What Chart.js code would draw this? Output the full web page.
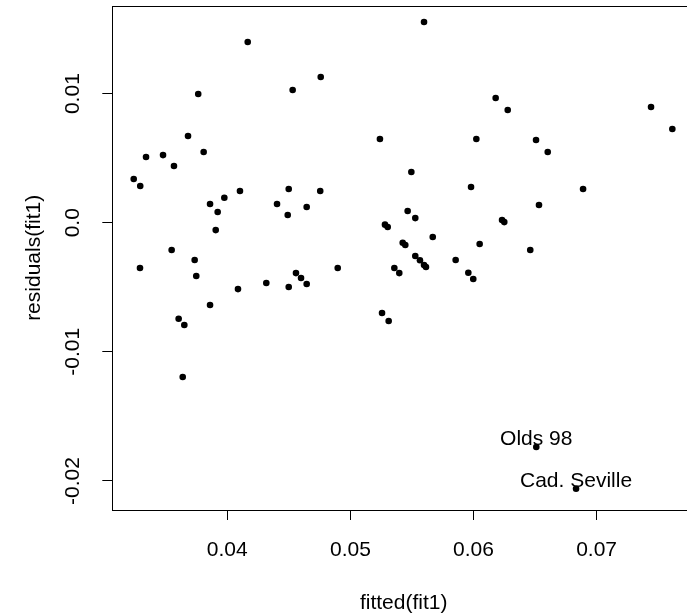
<!DOCTYPE html>
<html>
<head>
<meta charset="utf-8">
<script src="https://cdn.jsdelivr.net/npm/chart.js@4/dist/chart.umd.min.js"></script>
<style>
  html, body { margin: 0; padding: 0; background: #fff; overflow: hidden; }
  #resid { display: block; }
</style>
</head>
<body>
<canvas id="resid" width="700" height="613"></canvas>
<script>
"use strict";

// ----------------------------
// Data
// ----------------------------
const fitted = [
  0.0324, 0.03293, 0.0334, 0.03478, 0.03567, 0.03681, 0.03764, 0.03808, 0.04166, 0.03976,
  0.04103, 0.04499, 0.04755, 0.04531, 0.04759, 0.0386, 0.03922, 0.03906, 0.04404, 0.04645,
  0.04491, 0.03548, 0.03735, 0.03291, 0.03748, 0.04087, 0.04317, 0.04499, 0.04558, 0.04599,
  0.04645, 0.04897, 0.0386, 0.03605, 0.03651, 0.03638, 0.05598, 0.0618, 0.06278, 0.07442,
  0.07615, 0.0524, 0.06023, 0.06508, 0.06603, 0.05495, 0.0598, 0.0689, 0.06532, 0.05465,
  0.05527, 0.05281, 0.05303, 0.05669, 0.06232, 0.0625, 0.0605, 0.05425, 0.05446, 0.06461,
  0.05527, 0.05565, 0.05598, 0.05614, 0.05855, 0.05357, 0.05397, 0.05958, 0.05998, 0.05257,
  0.05311, 0.0651, 0.06833
];

const residuals = [
  0.00339, 0.00284, 0.00509, 0.00524, 0.00439, 0.00672, 0.00997, 0.00548, 0.0140, 0.00194,
  0.00246, 0.00261, 0.00246, 0.01028, 0.01129, 0.00145, 0.00083, -0.00057, 0.00145, 0.00122,
  0.0006, -0.00211, -0.00289, -0.00351, -0.00413, -0.00514, -0.00467, -0.00498, -0.0039, -0.00428,
  -0.00475, -0.00351, -0.00637, -0.00744, -0.00792, -0.01195, 0.01555, 0.00966, 0.00873, 0.00896,
  0.00726, 0.00648, 0.00648, 0.00641, 0.00548, 0.00393, 0.00277, 0.00261, 0.00137, 0.00091,
  0.00036, -0.00015, -0.00033, -0.00111, 0.00021, 0.00005, -0.00165, -0.00155, -0.00173, -0.00211,
  -0.00258, -0.00291, -0.00328, -0.00343, -0.00289, -0.00351, -0.0039, -0.00387, -0.00436, -0.00699,
  -0.00761, -0.01737, -0.0206
];

// labelled points (index into the arrays above)
const noteNames = ["Olds 98", "Cad. Seville"];
const noteIdx = [71, 72];

const xTicks = [0.04, 0.05, 0.06, 0.07];
const xTickLabels = ["0.04", "0.05", "0.06", "0.07"];
const yTicks = [0.01, 0.0, -0.01, -0.02];
const yTickLabels = ["0.01", "0.0", "-0.01", "-0.02"];

const xTitle = "fitted(fit1)";
const yTitle = "residuals(fit1)";

const FONT = "Liberation Sans, Arial, Helvetica, sans-serif";

// ----------------------------
// Box, axis titles, point labels
// ----------------------------
const rPlotExtras = {
  id: "rPlotExtras",
  afterDraw(chart) {
    const ctx = chart.ctx;
    const a = chart.chartArea;
    const xs = chart.scales.x;
    const ys = chart.scales.y;

    ctx.save();
    ctx.strokeStyle = "#000";
    ctx.lineWidth = 1;
    ctx.strokeRect(Math.round(a.left) + 0.5, Math.round(a.top) + 0.5,
      Math.round(a.right - a.left), Math.round(a.bottom - a.top));

    ctx.fillStyle = "#000";
    ctx.font = "21px " + FONT;
    ctx.textAlign = "center";
    ctx.textBaseline = "alphabetic";

    noteIdx.forEach((i, k) => {
      const px = xs.getPixelForValue(fitted[i]);
      const py = ys.getPixelForValue(residuals[i]);
      ctx.fillText(noteNames[k], px, py - 2);
    });

    ctx.fillText(xTitle, (a.left + a.right) / 2, 609);

    ctx.translate(40, (a.top + a.bottom) / 2);
    ctx.rotate(-Math.PI / 2);
    ctx.fillText(yTitle, 0, 0);
    ctx.restore();
  }
};

// ----------------------------
// Render Chart
// ----------------------------
const ctx = document.getElementById("resid").getContext("2d");

new Chart(ctx, {
  type: "scatter",
  data: {
    datasets: [{
      data: fitted.map((v, i) => ({ x: v, y: residuals[i] })),
      backgroundColor: "#000",
      borderWidth: 0,
      pointRadius: 3.3,
      pointHoverRadius: 3.3
    }]
  },
  options: {
    responsive: false,
    animation: false,
    devicePixelRatio: 1,
    events: [],
    layout: { padding: { top: 5.7, right: 4.9, left: 0, bottom: 0 } },
    plugins: { legend: { display: false }, tooltip: { enabled: false } },
    scales: {
      x: {
        type: "linear",
        min: 0.03066,
        max: 0.078,
        afterFit: s => { s.height = 103; s.paddingLeft = 0; s.paddingRight = 0; },
        afterBuildTicks: s => { s.ticks = xTicks.map(v => ({ value: v })); },
        grid: { drawOnChartArea: false, drawTicks: true, tickLength: 10, color: "#000", lineWidth: 1 },
        border: { display: false },
        ticks: {
          padding: 18,
          color: "#000",
          font: { family: FONT, size: 21 },
          maxRotation: 0,
          autoSkip: false,
          callback: (v, i) => xTickLabels[i]
        }
      },
      y: {
        type: "linear",
        min: -0.02225,
        max: 0.01681,
        afterFit: s => { s.width = 112.3; s.paddingTop = 0; s.paddingBottom = 0; },
        afterBuildTicks: s => { s.ticks = yTicks.map(v => ({ value: v })); },
        grid: { drawOnChartArea: false, drawTicks: true, tickLength: 10, color: "#000", lineWidth: 1 },
        border: { display: false },
        ticks: {
          padding: 5,
          crossAlign: "center",
          minRotation: 90,
          maxRotation: 90,
          color: "#000",
          font: { family: FONT, size: 21 },
          autoSkip: false,
          callback: (v, i) => yTickLabels[i]
        }
      }
    }
  },
  plugins: [rPlotExtras]
});
</script>
</body>
</html>
